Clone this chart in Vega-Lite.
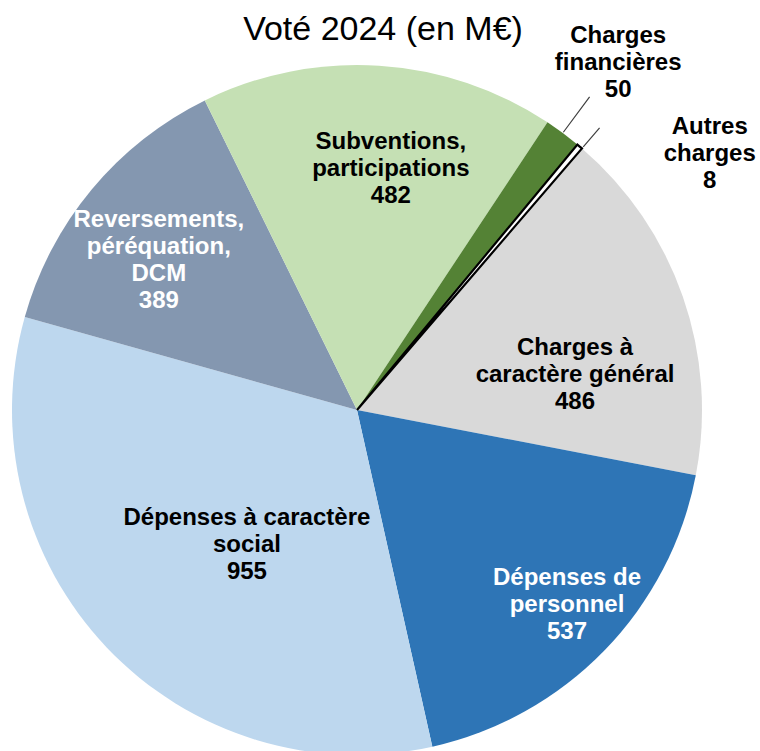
{
  "$schema": "https://vega.github.io/schema/vega-lite/v6.json",
  "width": 714,
  "height": 686,
  "autosize": {"type": "none"},
  "padding": {"left": 0, "top": 67, "right": 46, "bottom": 0},
  "background": "white",
  "title": {
    "text": "Voté 2024 (en M€)",
    "font": "Liberation Sans",
    "fontSize": 34,
    "fontWeight": "normal",
    "color": "#000000",
    "anchor": "middle",
    "frame": "group",
    "dx": 26,
    "offset": -23
  },
  "data": {
    "values": [
      {"name": "Charges à\ncaractère général", "value": 486},
      {"name": "Dépenses de\npersonnel", "value": 537},
      {"name": "Dépenses à caractère\nsocial", "value": 955},
      {"name": "Reversements,\npéréquation,\nDCM", "value": 389},
      {"name": "Subventions,\nparticipations", "value": 482},
      {"name": "Charges\nfinancières", "value": 50},
      {"name": "Autres\ncharges", "value": 8}
    ]
  },
  "transform": [
    {"stack": "value", "groupby": [], "as": ["v0", "v1"]},
    {"calculate": "(datum.v0 + datum.v1) / 2", "as": "mid"},
    {"calculate": "datum.name + '\\n' + datum.value", "as": "label"}
  ],
  "layer": [
    {
      "mark": {"type": "arc", "radius": 345, "stroke": null},
      "encoding": {
        "theta": {"field": "v0", "type": "quantitative", "scale": {"domain": [0, 2907], "range": [0.7103, 6.9935], "zero": true, "nice": false}},
        "theta2": {"field": "v1"},
        "color": {
          "field": "name",
          "type": "nominal",
          "legend": null,
          "scale": {
            "domain": ["Charges à\ncaractère général", "Dépenses de\npersonnel", "Dépenses à caractère\nsocial", "Reversements,\npéréquation,\nDCM", "Subventions,\nparticipations", "Charges\nfinancières", "Autres\ncharges"],
            "range": ["#D9D9D9", "#2E75B6", "#BDD7EE", "#8497B0", "#C5E0B4", "#548235", "#FFFFFF"]
          }
        }
      }
    },
    {
      "transform": [{"filter": "datum.value === 8"}],
      "mark": {"type": "arc", "radius": 345, "fill": "#FFFFFF", "stroke": "#000000", "strokeWidth": 2.2},
      "encoding": {
        "theta": {"field": "v0", "type": "quantitative", "scale": {"domain": [0, 2907], "range": [0.7103, 6.9935], "zero": true, "nice": false}},
        "theta2": {"field": "v1"}
      }
    },
    {
      "transform": [{"filter": "datum.value === 50"}],
      "mark": {"type": "arc", "radius": 390, "radius2": 346, "fill": null, "stroke": "#404040", "strokeWidth": 1.2},
      "encoding": {
        "theta": {"field": "mid", "type": "quantitative", "scale": {"domain": [0, 2907], "range": [0.7103, 6.9935], "zero": true, "nice": false}},
        "theta2": {"field": "mid"}
      }
    },
    {
      "transform": [{"filter": "datum.value === 8"}],
      "mark": {"type": "arc", "radius": 372, "radius2": 347, "fill": null, "stroke": "#404040", "strokeWidth": 1.2},
      "encoding": {
        "theta": {"field": "v1", "type": "quantitative", "scale": {"domain": [0, 2907], "range": [0.7103, 6.9935], "zero": true, "nice": false}},
        "theta2": {"field": "v1"}
      }
    },
    {
      "transform": [{"filter": "datum.value === 486"}],
      "mark": {"type": "text", "radius": 221, "thetaOffset": 0.171, "dy": -26, "font": "Liberation Sans", "fontSize": 24, "fontWeight": "bold", "lineBreak": "\n", "lineHeight": 27, "fill": "#000000", "align": "center", "baseline": "middle"},
      "encoding": {
        "theta": {"field": "mid", "type": "quantitative", "scale": {"domain": [0, 2907], "range": [0.7103, 6.9935], "zero": true, "nice": false}},
        "text": {"field": "label"}
      }
    },
    {
      "transform": [{"filter": "datum.value === 537"}],
      "mark": {"type": "text", "radius": 286, "thetaOffset": -0.024, "dy": -26, "font": "Liberation Sans", "fontSize": 24, "fontWeight": "bold", "lineBreak": "\n", "lineHeight": 27, "fill": "#FFFFFF", "align": "center", "baseline": "middle"},
      "encoding": {
        "theta": {"field": "mid", "type": "quantitative", "scale": {"domain": [0, 2907], "range": [0.7103, 6.9935], "zero": true, "nice": false}},
        "text": {"field": "label"}
      }
    },
    {
      "transform": [{"filter": "datum.value === 955"}],
      "mark": {"type": "text", "radius": 174, "thetaOffset": -0.127, "dy": -27, "font": "Liberation Sans", "fontSize": 24, "fontWeight": "bold", "lineBreak": "\n", "lineHeight": 27, "fill": "#000000", "align": "center", "baseline": "middle"},
      "encoding": {
        "theta": {"field": "mid", "type": "quantitative", "scale": {"domain": [0, 2907], "range": [0.7103, 6.9935], "zero": true, "nice": false}},
        "text": {"field": "label"}
      }
    },
    {
      "transform": [{"filter": "datum.value === 389"}],
      "mark": {"type": "text", "radius": 250, "thetaOffset": -0.038, "dy": -38, "font": "Liberation Sans", "fontSize": 24, "fontWeight": "bold", "lineBreak": "\n", "lineHeight": 27, "fill": "#FFFFFF", "align": "center", "baseline": "middle"},
      "encoding": {
        "theta": {"field": "mid", "type": "quantitative", "scale": {"domain": [0, 2907], "range": [0.7103, 6.9935], "zero": true, "nice": false}},
        "text": {"field": "label"}
      }
    },
    {
      "transform": [{"filter": "datum.value === 482"}],
      "mark": {"type": "text", "radius": 246, "thetaOffset": 0.074, "dy": -24, "font": "Liberation Sans", "fontSize": 24, "fontWeight": "bold", "lineBreak": "\n", "lineHeight": 27, "fill": "#000000", "align": "center", "baseline": "middle"},
      "encoding": {
        "theta": {"field": "mid", "type": "quantitative", "scale": {"domain": [0, 2907], "range": [0.7103, 6.9935], "zero": true, "nice": false}},
        "text": {"field": "label"}
      }
    },
    {
      "transform": [{"filter": "datum.value === 50"}],
      "mark": {"type": "text", "radius": 435, "thetaOffset": 0.005, "dy": -26, "font": "Liberation Sans", "fontSize": 24, "fontWeight": "bold", "lineBreak": "\n", "lineHeight": 27, "fill": "#000000", "align": "center", "baseline": "middle"},
      "encoding": {
        "theta": {"field": "mid", "type": "quantitative", "scale": {"domain": [0, 2907], "range": [0.7103, 6.9935], "zero": true, "nice": false}},
        "text": {"field": "label"}
      }
    },
    {
      "transform": [{"filter": "datum.value === 8"}],
      "mark": {"type": "text", "radius": 436, "thetaOffset": 0.241, "dy": -27, "font": "Liberation Sans", "fontSize": 24, "fontWeight": "bold", "lineBreak": "\n", "lineHeight": 27, "fill": "#000000", "align": "center", "baseline": "middle"},
      "encoding": {
        "theta": {"field": "mid", "type": "quantitative", "scale": {"domain": [0, 2907], "range": [0.7103, 6.9935], "zero": true, "nice": false}},
        "text": {"field": "label"}
      }
    }
  ]
}
